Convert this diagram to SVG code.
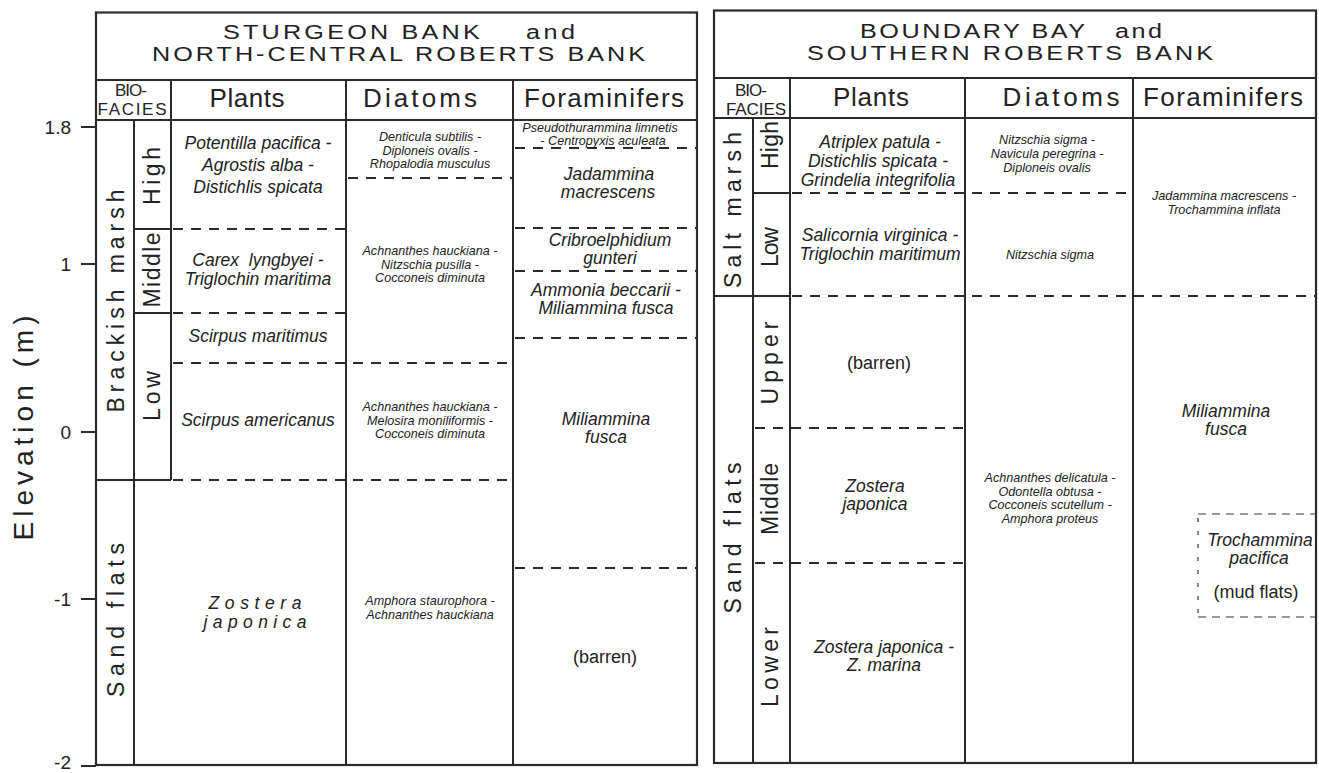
<svg xmlns="http://www.w3.org/2000/svg" width="1319" height="773" viewBox="0 0 1319 773">
  <style>
    text { font-family: "Liberation Sans", Arial, Helvetica, sans-serif; fill: #222; }
    .frame { fill: none; stroke: #2a2a2a; stroke-width: 2.2; }
    .rule { stroke: #2a2a2a; stroke-width: 2; fill: none; }
    .dash { stroke: #2a2a2a; stroke-width: 2; stroke-dasharray: 10 8; fill: none; }
    .fine { stroke: #333; stroke-width: 1.2; stroke-dasharray: 8 6; fill: none; }
    .finev { stroke: #333; stroke-width: 1.2; stroke-dasharray: 4 9; fill: none; }
    .title { font-size: 21px; }
    .head { font-size: 26px; text-anchor: middle; }
    .bio { font-size: 17px; text-anchor: middle; }
    .it { font-size: 17.5px; font-style: italic; text-anchor: middle; }
    .sm { font-size: 12.6px; font-style: italic; text-anchor: middle; }
    .plain { font-size: 18px; text-anchor: middle; }
    .lab { font-size: 23px; text-anchor: middle; }
    .tick { font-size: 19px; text-anchor: end; }
  </style>

  <!-- elevation axis -->
  <g id="axis">
    <g class="rule">
      <line x1="81" y1="127" x2="96" y2="127"/>
      <line x1="81" y1="264" x2="96" y2="264"/>
      <line x1="81" y1="432" x2="96" y2="432"/>
      <line x1="81" y1="599" x2="96" y2="599"/>
      <line x1="81" y1="766" x2="96" y2="766"/>
    </g>
    <text class="tick" x="71" y="134">1.8</text>
    <text class="tick" x="71" y="271">1</text>
    <text class="tick" x="71" y="439">0</text>
    <text class="tick" x="71" y="606">-1</text>
    <text class="tick" x="71" y="769">-2</text>
    <text font-size="28" text-anchor="middle" transform="translate(33,428) rotate(-90)" textLength="225" lengthAdjust="spacing">Elevation  (m)</text>
  </g>

  <!-- Sturgeon Bank and North-Central Roberts Bank -->
  <g id="panel-sturgeon">
    <g id="sturgeon-frame">
      <rect class="frame" x="96" y="12.5" width="601" height="752.5"/>
      <g class="rule">
        <line x1="96" y1="80" x2="697" y2="80"/>
        <line x1="96" y1="120" x2="697" y2="120"/>
        <line x1="134" y1="120" x2="134" y2="765"/>
        <line x1="171" y1="80" x2="171" y2="480"/>
        <line x1="346" y1="80" x2="346" y2="765"/>
        <line x1="513" y1="80" x2="513" y2="765"/>
        <line x1="134" y1="229" x2="171" y2="229"/>
        <line x1="134" y1="313" x2="171" y2="313"/>
        <line x1="96" y1="480" x2="171" y2="480"/>
      </g>
      <g class="dash">
        <line x1="173" y1="229" x2="346" y2="229"/>
        <line x1="173" y1="313" x2="346" y2="313"/>
        <line x1="173" y1="363" x2="513" y2="363"/>
        <line x1="173" y1="480" x2="513" y2="480"/>
        <line x1="348" y1="178" x2="513" y2="178"/>
        <line x1="515" y1="148" x2="697" y2="148"/>
        <line x1="515" y1="228" x2="697" y2="228"/>
        <line x1="515" y1="271" x2="697" y2="271"/>
        <line x1="515" y1="338" x2="697" y2="338"/>
        <line x1="515" y1="568" x2="697" y2="568"/>
      </g>
    </g>
    <!-- wide title lettering: drawn in a 1.2x horizontally scaled frame -->
    <g id="sturgeon-title" transform="scale(1.2 1)">
      <text class="title" x="185.8" y="39" textLength="214" lengthAdjust="spacing">STURGEON BANK</text>
      <text class="title" x="438.3" y="39" textLength="40.8" lengthAdjust="spacing">and</text>
      <text class="title" x="126.7" y="61" textLength="410.8" lengthAdjust="spacing">NORTH-CENTRAL ROBERTS BANK</text>
    </g>
    <g id="sturgeon-headers">
      <text class="bio" x="131" y="96" textLength="32" lengthAdjust="spacing">BIO-</text>
      <text class="bio" x="132" y="115" textLength="69" lengthAdjust="spacing">FACIES</text>
      <text class="head" x="247" y="107" textLength="75" lengthAdjust="spacing">Plants</text>
      <text class="head" x="420" y="107" textLength="114" lengthAdjust="spacing">Diatoms</text>
      <text class="head" x="604" y="107" textLength="160" lengthAdjust="spacing">Foraminifers</text>
    </g>
    <g id="sturgeon-biofacies">
      <text class="lab" transform="translate(124,301) rotate(-90)" textLength="223" lengthAdjust="spacing">Brackish  marsh</text>
      <text class="lab" transform="translate(124,620) rotate(-90)" textLength="154" lengthAdjust="spacing">Sand  flats</text>
      <text class="lab" transform="translate(160,176) rotate(-90)" textLength="58" lengthAdjust="spacing">High</text>
      <text class="lab" transform="translate(160,270) rotate(-90)" textLength="75" lengthAdjust="spacing">Middle</text>
      <text class="lab" transform="translate(160,396) rotate(-90)" textLength="50" lengthAdjust="spacing">Low</text>
    </g>
    <g id="sturgeon-plants">
      <text class="it" x="258" y="149">Potentilla pacifica -</text>
      <text class="it" x="258" y="171">Agrostis alba -</text>
      <text class="it" x="258" y="193">Distichlis spicata</text>
      <text class="it" x="258" y="266" xml:space="preserve">Carex  lyngbyei -</text>
      <text class="it" x="258" y="285">Triglochin maritima</text>
      <text class="it" x="258" y="342">Scirpus maritimus</text>
      <text class="it" x="258" y="426">Scirpus americanus</text>
      <text class="it" x="255" y="609" textLength="93" lengthAdjust="spacing">Zostera</text>
      <text class="it" x="255" y="628" textLength="103" lengthAdjust="spacing">japonica</text>
    </g>
    <g id="sturgeon-diatoms">
      <text class="sm" x="430" y="141">Denticula subtilis -</text>
      <text class="sm" x="430" y="154.5">Diploneis ovalis -</text>
      <text class="sm" x="430" y="168">Rhopalodia musculus</text>
      <text class="sm" x="430" y="255">Achnanthes hauckiana -</text>
      <text class="sm" x="430" y="268.5">Nitzschia pusilla -</text>
      <text class="sm" x="430" y="282">Cocconeis diminuta</text>
      <text class="sm" x="430" y="411">Achnanthes hauckiana -</text>
      <text class="sm" x="430" y="424.5">Melosira moniliformis -</text>
      <text class="sm" x="430" y="438">Cocconeis diminuta</text>
      <text class="sm" x="430" y="605">Amphora staurophora -</text>
      <text class="sm" x="430" y="618.5">Achnanthes hauckiana</text>
    </g>
    <g id="sturgeon-foraminifers">
      <text class="sm" x="600" y="132">Pseudothurammina limnetis</text>
      <text class="sm" x="603" y="145">- Centropyxis aculeata</text>
      <text class="it" x="609" y="180">Jadammina</text>
      <text class="it" x="608" y="198">macrescens</text>
      <text class="it" x="610" y="246">Cribroelphidium</text>
      <text class="it" x="610" y="264">gunteri</text>
      <text class="it" x="606" y="296">Ammonia beccarii -</text>
      <text class="it" x="606" y="314">Miliammina fusca</text>
      <text class="it" x="606" y="425">Miliammina</text>
      <text class="it" x="606" y="443">fusca</text>
      <text class="plain" x="605" y="663">(barren)</text>
    </g>
  </g>

  <!-- Boundary Bay and Southern Roberts Bank -->
  <g id="panel-boundary">
    <g id="boundary-frame">
      <rect class="frame" x="714" y="10.5" width="602" height="752.5"/>
      <g class="rule">
        <line x1="714" y1="78" x2="1316" y2="78"/>
        <line x1="714" y1="118" x2="1316" y2="118"/>
        <line x1="753" y1="118" x2="753" y2="763"/>
        <line x1="790" y1="78" x2="790" y2="763"/>
        <line x1="965" y1="78" x2="965" y2="763"/>
        <line x1="1133" y1="78" x2="1133" y2="763"/>
        <line x1="753" y1="193" x2="790" y2="193"/>
        <line x1="714" y1="296" x2="790" y2="296"/>
      </g>
      <g class="dash">
        <line x1="792" y1="193" x2="1133" y2="193"/>
        <line x1="792" y1="296" x2="1316" y2="296"/>
        <line x1="755" y1="428" x2="965" y2="428"/>
        <line x1="755" y1="563" x2="965" y2="563"/>
      </g>
      <g id="mudflat-box">
        <line class="fine" x1="1198" y1="514" x2="1316" y2="514"/>
        <line class="fine" x1="1198" y1="617" x2="1316" y2="617"/>
        <line class="finev" x1="1198" y1="518" x2="1198" y2="617"/>
      </g>
    </g>
    <g id="boundary-title" transform="scale(1.2 1)">
      <text class="title" x="716.7" y="38" textLength="187.5" lengthAdjust="spacing">BOUNDARY BAY</text>
      <text class="title" x="929.2" y="38" textLength="39.2" lengthAdjust="spacing">and</text>
      <text class="title" x="672.5" y="60" textLength="338.3" lengthAdjust="spacing">SOUTHERN ROBERTS BANK</text>
    </g>
    <g id="boundary-headers">
      <text class="bio" x="751" y="95.5" textLength="32" lengthAdjust="spacing">BIO-</text>
      <text class="bio" x="756" y="114.5" textLength="60" lengthAdjust="spacing">FACIES</text>
      <text class="head" x="871" y="106" textLength="76" lengthAdjust="spacing">Plants</text>
      <text class="head" x="1061" y="106" textLength="117" lengthAdjust="spacing">Diatoms</text>
      <text class="head" x="1223" y="106" textLength="160" lengthAdjust="spacing">Foraminifers</text>
    </g>
    <g id="boundary-biofacies">
      <text class="lab" transform="translate(741,210) rotate(-90)" textLength="156" lengthAdjust="spacing">Salt  marsh</text>
      <text class="lab" transform="translate(741,538) rotate(-90)" textLength="151" lengthAdjust="spacing">Sand  flats</text>
      <text class="lab" transform="translate(778,145) rotate(-90)" textLength="48" lengthAdjust="spacing">High</text>
      <text class="lab" transform="translate(778,247) rotate(-90)" textLength="40" lengthAdjust="spacing">Low</text>
      <text class="lab" transform="translate(778,363) rotate(-90)" textLength="83" lengthAdjust="spacing">Upper</text>
      <text class="lab" transform="translate(778,499) rotate(-90)" textLength="72" lengthAdjust="spacing">Middle</text>
      <text class="lab" transform="translate(778,667) rotate(-90)" textLength="80" lengthAdjust="spacing">Lower</text>
    </g>
    <g id="boundary-plants">
      <text class="it" x="880" y="148">Atriplex patula -</text>
      <text class="it" x="878" y="167">Distichlis spicata -</text>
      <text class="it" x="878" y="186">Grindelia integrifolia</text>
      <text class="it" x="880" y="241">Salicornia virginica -</text>
      <text class="it" x="880" y="260">Triglochin maritimum</text>
      <text class="plain" x="879" y="369">(barren)</text>
      <text class="it" x="875" y="492">Zostera</text>
      <text class="it" x="875" y="510">japonica</text>
      <text class="it" x="884" y="653">Zostera japonica -</text>
      <text class="it" x="884" y="671">Z. marina</text>
    </g>
    <g id="boundary-diatoms">
      <text class="sm" x="1047" y="144">Nitzschia sigma -</text>
      <text class="sm" x="1047" y="158">Navicula peregrina -</text>
      <text class="sm" x="1047" y="172">Diploneis ovalis</text>
      <text class="sm" x="1050" y="259">Nitzschia sigma</text>
      <text class="sm" x="1050" y="482">Achnanthes delicatula -</text>
      <text class="sm" x="1050" y="495.5">Odontella obtusa -</text>
      <text class="sm" x="1050" y="509">Cocconeis scutellum -</text>
      <text class="sm" x="1050" y="522.5">Amphora proteus</text>
    </g>
    <g id="boundary-foraminifers">
      <text class="sm" x="1224" y="200" font-size="13.6">Jadammina macrescens -</text>
      <text class="sm" x="1224" y="214" font-size="13.6">Trochammina inflata</text>
      <text class="it" x="1226" y="417">Miliammina</text>
      <text class="it" x="1226" y="435">fusca</text>
      <text class="it" x="1260" y="546">Trochammina</text>
      <text class="it" x="1259" y="564">pacifica</text>
      <text class="plain" x="1256" y="598">(mud flats)</text>
    </g>
  </g>
</svg>
